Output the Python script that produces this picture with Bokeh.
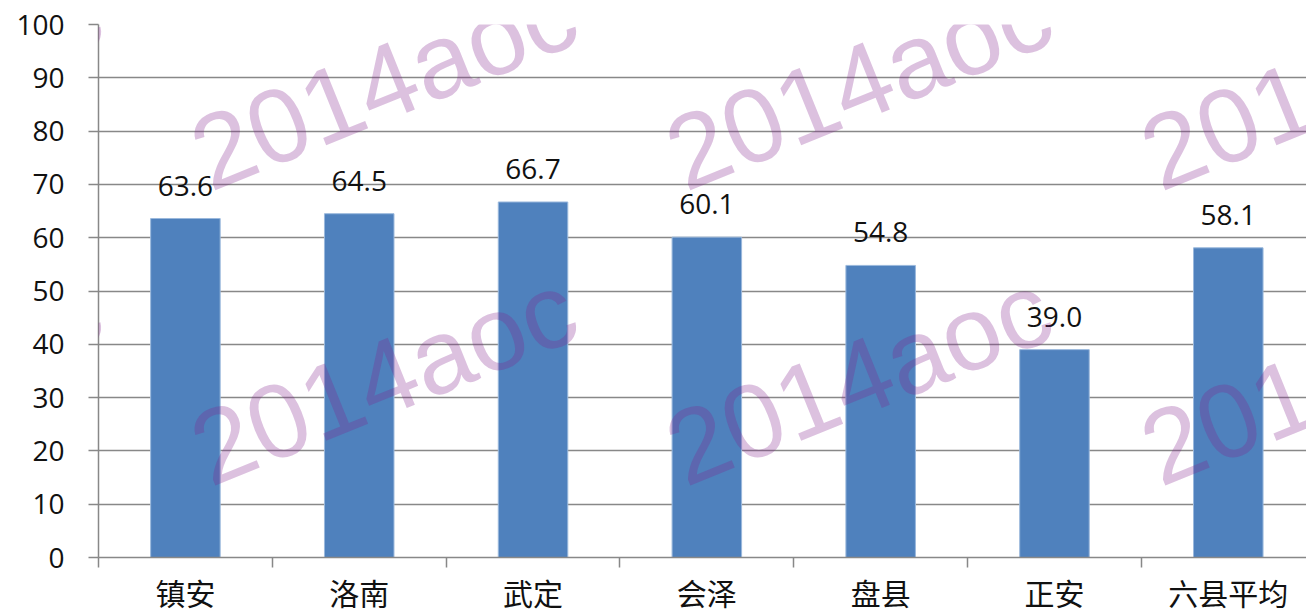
from bokeh.plotting import figure
from bokeh.models import Range1d, FixedTicker, ColumnDataSource, LabelSet, Label
from bokeh.core.properties import value
from bokeh.embed import file_html
from bokeh.resources import INLINE

categories = ["镇安", "洛南", "武定", "会泽", "盘县", "正安", "六县平均"]
values = [63.6, 64.5, 66.7, 60.1, 54.8, 39.0, 58.1]
y_ticks = [0, 10, 20, 30, 40, 50, 60, 70, 80, 90, 100]
watermark = "2014aoc"

xs = [i + 0.5 for i in range(len(categories))]
src = ColumnDataSource(dict(x=xs, top=values, lab=[f"{v:.1f}" for v in values]))

p = figure(width=1306, height=616, output_backend="svg", toolbar_location=None,
           x_range=Range1d(0, 6.95), y_range=Range1d(0, 100),
           min_border_left=98, min_border_right=0, min_border_top=24, min_border_bottom=59)
p.outline_line_color = None
p.background_fill_color = "white"

p.vbar(x="x", top="top", width=0.40, source=src, fill_color="#4F81BD",
       line_color="#9ab8dc", line_width=1)

labels = LabelSet(x="x", y="top", text="lab", source=src, text_align="center",
                  text_baseline="alphabetic", y_offset=23, text_font_size="28px",
                  text_font=value("Open Sans"), text_color="#111111")
p.add_layout(labels)

grey = "#888888"
p.xgrid.grid_line_color = None
p.ygrid.grid_line_color = grey
p.ygrid.grid_line_width = 1.5

p.yaxis.ticker = FixedTicker(ticks=y_ticks)
p.yaxis.axis_line_color = grey
p.yaxis.axis_line_width = 1.5
p.yaxis.major_tick_line_color = grey
p.yaxis.major_tick_line_width = 1.5
p.yaxis.major_tick_out = 10
p.yaxis.major_tick_in = 0
p.yaxis.minor_tick_line_color = None
p.yaxis.major_label_text_font = "Open Sans"
p.yaxis.major_label_text_font_size = "28px"
p.yaxis.major_label_text_color = "#111111"
p.yaxis.major_label_standoff = 24

p.xaxis.ticker = FixedTicker(ticks=xs, minor_ticks=list(range(len(categories) + 1)))
p.xaxis.major_label_overrides = {x: c for x, c in zip(xs, categories)}
p.xaxis.axis_line_color = grey
p.xaxis.axis_line_width = 1.5
p.xaxis.major_tick_line_color = None
p.xaxis.major_tick_out = 0
p.xaxis.major_tick_in = 0
p.xaxis.minor_tick_line_color = grey
p.xaxis.minor_tick_line_width = 1.5
p.xaxis.minor_tick_out = 10
p.xaxis.minor_tick_in = 0
p.xaxis.major_label_text_font = "Noto Sans CJK SC"
p.xaxis.major_label_text_font_size = "30px"
p.xaxis.major_label_text_color = "#111111"
p.xaxis.major_label_standoff = 2

# watermark tiles
for wx in [-2.167, 0.566, 3.299, 6.032]:
    for wy in [74.9, 19.5, -35.8]:
        p.add_layout(Label(x=wx, y=wy, text=watermark, angle=22, angle_units="deg",
                           text_font="Liberation Sans", text_font_size="105px",
                           text_color="#82208c", text_alpha=0.28,
                           text_align="left", text_baseline="alphabetic"))

open("out.html", "w").write(file_html(p, INLINE))
